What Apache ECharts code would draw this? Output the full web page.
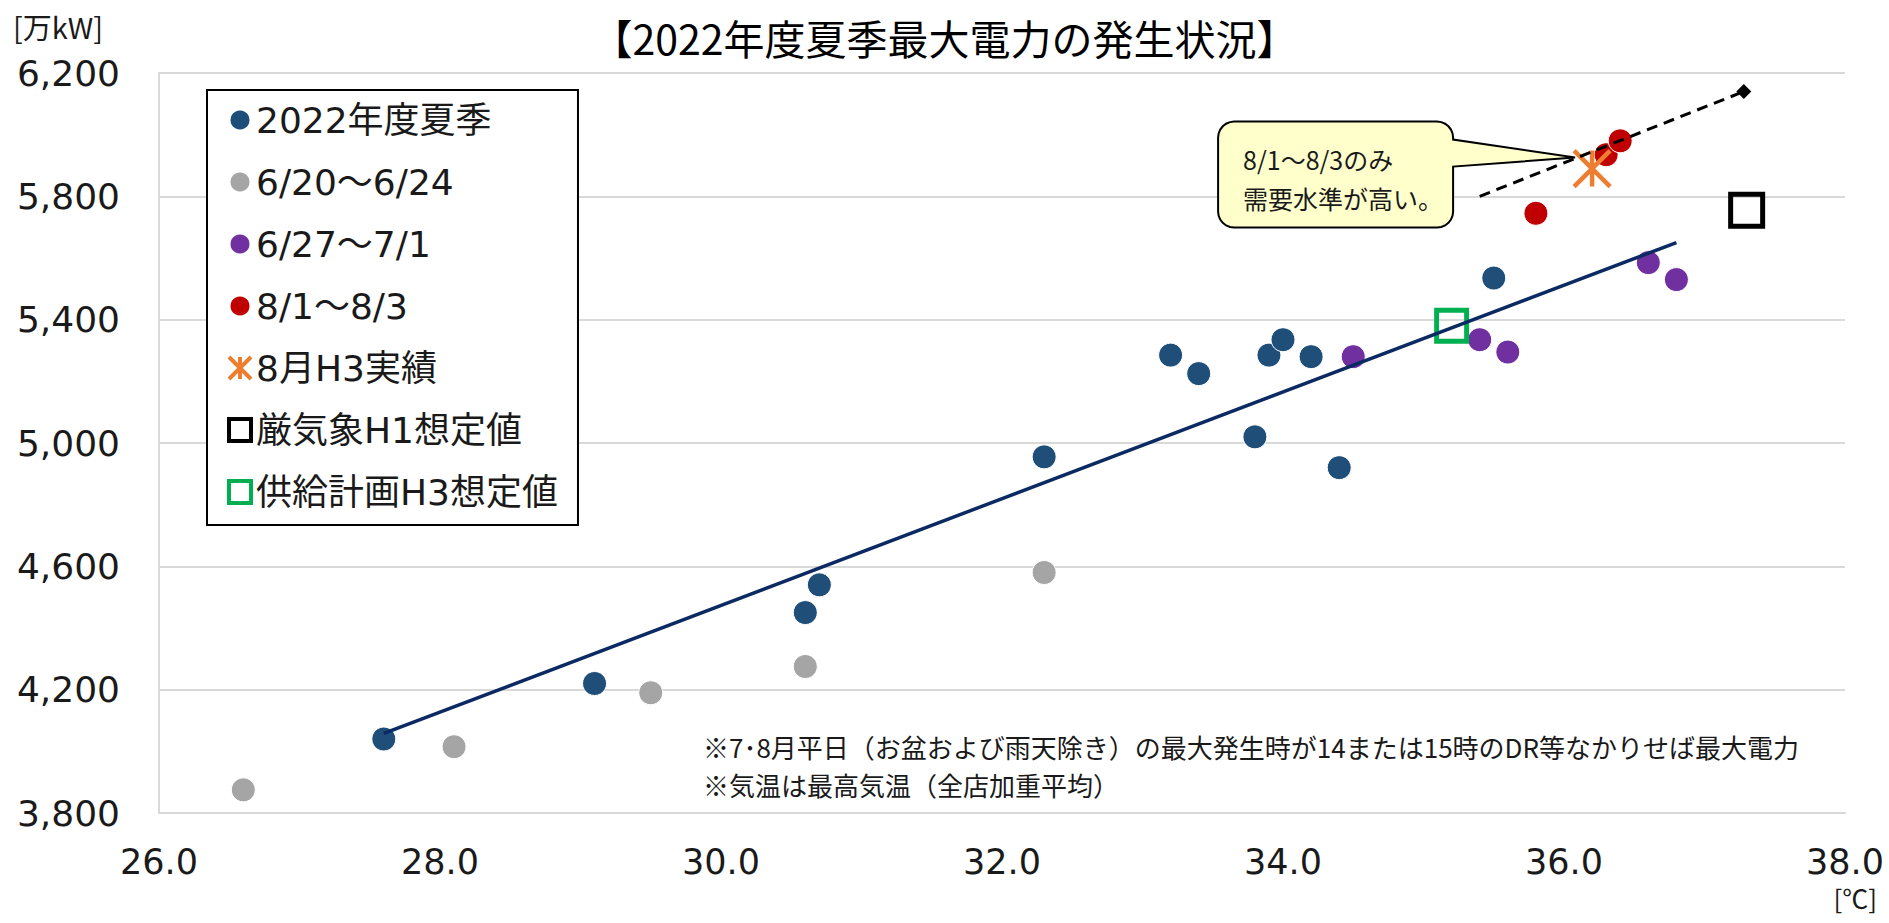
<!DOCTYPE html>
<html>
<head>
<meta charset="utf-8">
<script src="https://cdn.jsdelivr.net/npm/echarts@6/dist/echarts.min.js"></script>
<style>
  html, body { margin: 0; padding: 0; background: #ffffff; }
  #chart { width: 1889px; height: 923px; }
</style>
</head>
<body>
<div id="chart"></div>
<script>
// 軸の目盛
const tempTicks = [26, 28, 30, 32, 34, 36, 38];
const demandTicks = [3800, 4200, 4600, 5000, 5400, 5800, 6200];

// 2022年度夏季
const summerTemp = [27.6, 29.1, 30.6, 30.7, 32.3, 33.2, 33.4, 33.8, 33.9, 34.0, 34.2, 34.4, 35.5];
const summerDemand = [4040, 4220, 4450, 4540, 4955, 5285, 5225, 5020, 5285, 5335, 5280, 4920, 5535];
// 6/20～6/24
const juneTemp = [26.6, 28.1, 29.5, 30.6, 32.3];
const juneDemand = [3875, 4015, 4190, 4275, 4580];
// 6/27～7/1
const julyTemp = [34.5, 35.4, 35.6, 36.6, 36.8];
const julyDemand = [5280, 5335, 5295, 5585, 5530];
// 8/1～8/3
const augTemp = [35.8, 36.3, 36.4];
const augDemand = [5745, 5935, 5980];
// 8月H3実績
const h3Temp = [36.2];
const h3Demand = [5890];
// 厳気象H1想定値
const severeTemp = [37.3];
const severeDemand = [5755];
// 供給計画H3想定値
const planTemp = [35.2];
const planDemand = [5380];
// 近似線（2022年度夏季）
const trendTemp = [27.6, 36.8];
const trendDemand = [4058, 5650];
// 8/1～8/3 の水準線
const augLineTemp = [35.4, 37.28];
const augLineDemand = [5800, 6140];

const seriesNames = ['2022年度夏季', '6/20～6/24', '6/27～7/1', '8/1～8/3', '8月H3実績', '厳気象H1想定値', '供給計画H3想定値'];
const calloutLines = ['8/1～8/3のみ', '需要水準が高い。'];
const noteLines = [
  '※7･8月平日（お盆および雨天除き）の最大発生時が14または15時のDR等なかりせば最大電力',
  '※気温は最高気温（全店加重平均）'
];

const zip = (xs, ys) => xs.map((x, i) => [x, ys[i]]);

const latinFont = '"DejaVu Sans", "Noto Sans CJK JP", sans-serif';
const jpFont = '"Noto Sans CJK JP", sans-serif';
const textColor = '#1a1a1a';
const gridColor = '#d9d9d9';

const crossPath = 'path://M0,0L10,10M10,0L0,10M5,0L5,10';

const myChart = echarts.init(document.getElementById('chart'), null, { renderer: 'svg' });

// 吹き出し（8月H3実績の点を基準に描く）
const renderCallout = (params, api) => {
  const p = api.coord([api.value(0), api.value(1)]);
  const cx = p[0], cy = p[1];
  const L = cx - 374, R = cx - 139, T = cy - 47, B = cy + 59, r = 16;
  const pts = [];
  const arc = (ox, oy, a0, a1) => {
    for (let k = 0; k <= 6; k++) {
      const a = (a0 + (a1 - a0) * k / 6) * Math.PI / 180;
      pts.push([ox + r * Math.cos(a), oy + r * Math.sin(a)]);
    }
  };
  arc(L + r, T + r, 180, 270);
  arc(R - r, T + r, 270, 360);
  pts.push([R, cy - 29], [cx - 17, cy - 11], [R, cy - 2]);
  arc(R - r, B - r, 0, 90);
  arc(L + r, B - r, 90, 180);
  return {
    type: 'group',
    children: [
      {
        type: 'polygon',
        shape: { points: pts },
        style: { fill: '#ffffcc', stroke: '#000000', lineWidth: 2 }
      },
      {
        type: 'text',
        style: {
          x: L + 25, y: cy - 10, text: calloutLines[0],
          fill: textColor, fontSize: 25, fontFamily: jpFont, verticalAlign: 'middle'
        }
      },
      {
        type: 'text',
        style: {
          x: L + 25, y: cy + 29, text: calloutLines[1],
          fill: textColor, fontSize: 25, fontFamily: jpFont, verticalAlign: 'middle'
        }
      }
    ]
  };
};

const dotSeries = (name, xs, ys, color) => ({
  name: name,
  type: 'scatter',
  data: zip(xs, ys),
  symbol: 'circle',
  symbolSize: 24,
  itemStyle: { color: color, borderColor: '#ffffff', borderWidth: 1, opacity: 1 },
  z: 3
});

const option = {
  animation: false,
  backgroundColor: '#ffffff',
  title: {
    text: '【2022年度夏季最大電力の発生状況】',
    left: 'center',
    top: 11,
    textStyle: { fontFamily: jpFont, fontSize: 41, fontWeight: 'normal', color: '#000000' }
  },
  legend: {
    orient: 'vertical',
    left: 207,
    top: 90,
    padding: [12, 20, 15, 20],
    itemGap: 26,
    itemWidth: 22,
    itemHeight: 22,
    borderColor: '#000000',
    borderWidth: 2,
    backgroundColor: '#ffffff',
    textStyle: { fontFamily: latinFont, fontSize: 36, lineHeight: 36, color: textColor },
    data: [
      { name: seriesNames[0], itemStyle: { borderColor: '#ffffff', borderWidth: 3 } },
      { name: seriesNames[1], itemStyle: { borderColor: '#ffffff', borderWidth: 3 } },
      { name: seriesNames[2], itemStyle: { borderColor: '#ffffff', borderWidth: 3 } },
      { name: seriesNames[3], itemStyle: { borderColor: '#ffffff', borderWidth: 3 } },
      { name: seriesNames[4], itemStyle: { borderWidth: 4 } },
      { name: seriesNames[5], itemStyle: { borderWidth: 4 } },
      { name: seriesNames[6], itemStyle: { borderWidth: 4 } }
    ]
  },
  grid: { left: 159, right: 44, top: 73, bottom: 110, containLabel: false },
  xAxis: {
    type: 'value',
    min: tempTicks[0],
    max: tempTicks[tempTicks.length - 1],
    interval: tempTicks[1] - tempTicks[0],
    axisLine: { show: true, lineStyle: { color: gridColor, width: 2 } },
    axisTick: { show: false },
    splitLine: { show: false },
    axisLabel: {
      margin: 31,
      color: textColor,
      fontFamily: latinFont,
      fontSize: 35,
      formatter: v => v.toFixed(1)
    }
  },
  yAxis: {
    type: 'value',
    min: demandTicks[0],
    max: demandTicks[demandTicks.length - 1],
    interval: demandTicks[1] - demandTicks[0],
    axisLine: { show: true, lineStyle: { color: gridColor, width: 2 } },
    axisTick: { show: false },
    splitLine: { show: true, lineStyle: { color: gridColor, width: 2 } },
    axisLabel: {
      margin: 39,
      color: textColor,
      fontFamily: latinFont,
      fontSize: 36,
      formatter: v => v.toLocaleString('en-US')
    }
  },
  graphic: [
    {
      type: 'text', left: 13, top: 11,
      style: { text: '[万kW]', fontFamily: jpFont, fontSize: 29, fill: textColor }
    },
    {
      type: 'text', right: 12, top: 884,
      style: { text: '[℃]', fontFamily: jpFont, fontSize: 26, fill: textColor }
    },
    {
      type: 'text', left: 703, top: 733,
      style: { text: noteLines[0], fontFamily: jpFont, fontSize: 26, fill: textColor }
    },
    {
      type: 'text', left: 703, top: 771,
      style: { text: noteLines[1], fontFamily: jpFont, fontSize: 26, fill: textColor }
    }
  ],
  series: [
    dotSeries(seriesNames[0], summerTemp, summerDemand, '#1f4e79'),
    dotSeries(seriesNames[1], juneTemp, juneDemand, '#a5a5a5'),
    dotSeries(seriesNames[2], julyTemp, julyDemand, '#7030a0'),
    dotSeries(seriesNames[3], augTemp, augDemand, '#c00000'),
    {
      name: seriesNames[4],
      type: 'scatter',
      data: zip(h3Temp, h3Demand),
      symbol: crossPath,
      symbolSize: 36,
      itemStyle: { color: 'rgba(0,0,0,0)', borderColor: '#ed7d31', borderWidth: 4.5, opacity: 1 },
      z: 4
    },
    {
      name: seriesNames[5],
      type: 'scatter',
      data: zip(severeTemp, severeDemand),
      symbol: 'rect',
      symbolSize: 32,
      itemStyle: { color: 'rgba(0,0,0,0)', borderColor: '#000000', borderWidth: 5, opacity: 1 },
      z: 4
    },
    {
      name: seriesNames[6],
      type: 'scatter',
      data: zip(planTemp, planDemand),
      symbol: 'rect',
      symbolSize: [30, 31],
      itemStyle: { color: 'rgba(0,0,0,0)', borderColor: '#00b050', borderWidth: 5, opacity: 1 },
      z: 4
    },
    {
      name: '近似線',
      type: 'line',
      data: zip(trendTemp, trendDemand),
      showSymbol: false,
      symbol: 'none',
      lineStyle: { color: '#0b2a63', width: 3.5 },
      z: 5
    },
    {
      name: '水準線',
      type: 'line',
      data: zip(augLineTemp, augLineDemand).map((d, i, arr) => ({
        value: d,
        symbol: i === arr.length - 1 ? 'diamond' : 'none',
        symbolSize: 15
      })),
      showAllSymbol: true,
      itemStyle: { color: '#000000' },
      lineStyle: { color: '#000000', width: 3, type: [11, 7] },
      z: 5
    },
    {
      name: '吹き出し',
      type: 'custom',
      renderItem: renderCallout,
      data: zip(h3Temp, h3Demand),
      z: 6,
      silent: true
    }
  ]
};

myChart.setOption(option);
</script>
</body>
</html>
